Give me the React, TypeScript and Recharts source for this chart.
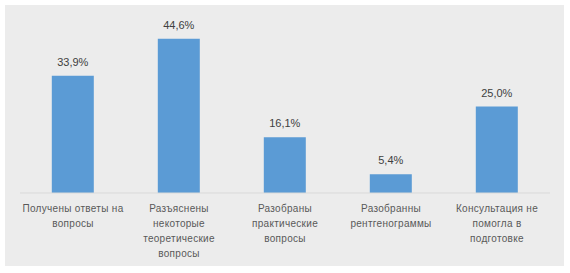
import { Bar, BarChart, LabelList, XAxis, YAxis } from "recharts";

const CATEGORIES = [
  ["Получены ответы на", "вопросы"],
  ["Разъяснены", "некоторые", "теоретические", "вопросы"],
  ["Разобраны", "практические", "вопросы"],
  ["Разобранны", "рентгенограммы"],
  ["Консультация не", "помогла в", "подготовке"],
];
const SHARES = [33.9, 44.6, 16.1, 5.4, 25.0];

const BAR = "#5b9bd5";
const AXIS = "#d9d9d9";
const FONT = "'Liberation Sans', Arial, sans-serif";

const rows = CATEGORIES.map((lines, i) => ({ key: String(i), lines, share: SHARES[i] }));

function CategoryTick({ x, y, payload }: any) {
  const lines = CATEGORIES[Number(payload.value)] || [];
  return (
    <text x={x} y={y} textAnchor="middle" fill="#595959" fontSize={10} fontFamily={FONT} letterSpacing={0.3}>
      {lines.map((l, i) => (
        <tspan key={i} x={x} dy={i === 0 ? 11 : 15}>
          {l}
        </tspan>
      ))}
    </text>
  );
}

export default function App() {
  return (
    <div style={{ position: "fixed", left: 0, top: 0, width: 570, height: 273, background: "#fff" }}>
      <div style={{ position: "absolute", left: 5, top: 5, width: 559, height: 261, background: "#ececec" }} />
      <div style={{ position: "absolute", left: 0, top: 0 }}>
        <BarChart width={570} height={273} data={rows} margin={{ top: 20, right: 20, left: 20, bottom: 0 }} barCategoryGap="30%">
          <XAxis dataKey="key" height={80} axisLine={{ stroke: AXIS }} tickLine={false} tick={<CategoryTick />} interval={0} />
          <YAxis hide domain={[0, 50]} />
          <Bar dataKey="share" fill={BAR} isAnimationActive={false}>
            <LabelList
              dataKey="share"
              position="top"
              offset={10}
              fill="#404040"
              fontSize={11}
              fontFamily={FONT}
              formatter={(v: any) => `${Number(v).toFixed(1).replace(".", ",")}%`}
            />
          </Bar>
        </BarChart>
      </div>
    </div>
  );
}
